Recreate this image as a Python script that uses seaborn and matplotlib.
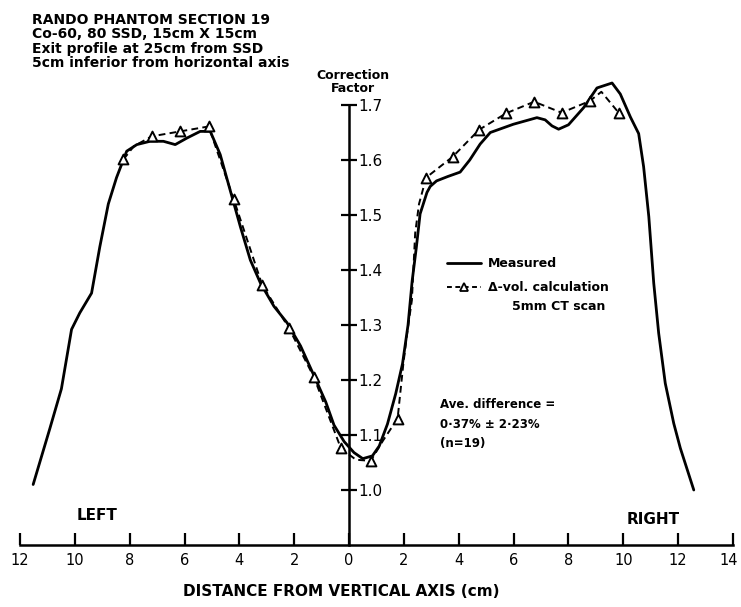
import matplotlib
matplotlib.use("Agg")
import matplotlib.pyplot as plt
from matplotlib.lines import Line2D
from matplotlib.transforms import ScaledTranslation
import seaborn as sns
import numpy as np

# ---------------- data ----------------
# Measured profile (negative x = LEFT side of vertical axis)
meas_x = [-11.52, -10.91, -10.49, -10.12, -9.82, -9.39, -9.09, -8.78, -8.48, -8.11,
          -7.74, -7.26, -6.77, -6.34, -5.91, -5.43, -5.06, -4.70, -4.33, -3.96,
          -3.60, -3.23, -2.74, -2.26, -1.77, -1.28, -0.85, -0.55, -0.18, 0.18,
          0.50, 0.85, 1.10, 1.40, 1.70, 1.95, 2.15, 2.30, 2.45, 2.59,
          2.84, 2.96, 3.19, 3.60, 4.05, 4.40, 4.78, 5.15, 5.99, 6.85,
          7.15, 7.40, 7.64, 8.00, 8.55, 9.04, 9.59, 9.89, 10.26, 10.56,
          10.74, 10.93, 11.11, 11.29, 11.53, 11.84, 12.08, 12.57]
meas_y = [1.010, 1.112, 1.184, 1.292, 1.322, 1.358, 1.442, 1.520, 1.568, 1.616,
          1.628, 1.634, 1.634, 1.628, 1.640, 1.652, 1.652, 1.610, 1.544, 1.478,
          1.418, 1.376, 1.334, 1.304, 1.262, 1.208, 1.160, 1.118, 1.088, 1.068,
          1.057, 1.062, 1.080, 1.120, 1.175, 1.230, 1.300, 1.380, 1.440, 1.502,
          1.541, 1.552, 1.562, 1.570, 1.578, 1.600, 1.629, 1.650, 1.665, 1.677,
          1.673, 1.662, 1.656, 1.664, 1.695, 1.731, 1.740, 1.720, 1.678, 1.648,
          1.588, 1.497, 1.376, 1.285, 1.194, 1.121, 1.076, 1.000]

# Delta-volume calculation (dashed path)
calc_x = [-8.23, -7.85, -7.20, -6.16, -5.12, -4.21, -3.17, -2.20, -1.28, -0.30,
          0.25, 0.79, 1.24, 1.77, 1.98, 2.13, 2.29, 2.41, 2.55, 2.81,
          3.78, 4.74, 5.73, 6.75, 7.75, 8.77, 9.20, 9.83]
calc_y = [1.601, 1.625, 1.643, 1.652, 1.661, 1.529, 1.373, 1.295, 1.205, 1.076,
          1.055, 1.053, 1.090, 1.130, 1.230, 1.290, 1.345, 1.467, 1.520, 1.568,
          1.606, 1.655, 1.685, 1.706, 1.686, 1.707, 1.724, 1.686]

# Calculated points (n = 19), triangles
tri_x = [-8.23, -7.20, -6.16, -5.12, -4.21, -3.17, -2.20, -1.28, -0.30, 0.79,
         1.77, 2.81, 3.78, 4.74, 5.73, 6.75, 7.75, 8.77, 9.83]
tri_y = [1.601, 1.643, 1.652, 1.661, 1.529, 1.373, 1.295, 1.205, 1.076, 1.053,
         1.130, 1.568, 1.606, 1.655, 1.685, 1.706, 1.686, 1.707, 1.686]

x_ticks = [-12, -10, -8, -6, -4, -2, 0, 2, 4, 6, 8, 10, 12, 14]
x_tick_labels = ["12", "10", "8", "6", "4", "2", "0", "2", "4", "6", "8", "10", "12", "14"]
y_ticks = [1.0, 1.1, 1.2, 1.3, 1.4, 1.5, 1.6, 1.7]
y_tick_labels = ["1.0", "1.1", "1.2", "1.3", "1.4", "1.5", "1.6", "1.7"]

title_lines = ["RANDO PHANTOM SECTION 19",
               "Co-60, 80 SSD, 15cm X 15cm",
               "Exit profile at 25cm from SSD",
               "5cm inferior from horizontal axis"]

# ---------------- figure ----------------
sns.set_theme(style="white")
plt.rcParams['font.family'] = ['DejaVu Sans']
plt.rcParams['font.weight'] = 'bold'
plt.rcParams['text.color'] = 'black'
plt.rcParams['axes.labelcolor'] = 'black'
plt.rcParams['xtick.color'] = 'black'
plt.rcParams['ytick.color'] = 'black'

W, H = 741, 607
fig = plt.figure(figsize=(W / 100, H / 100), dpi=100)
ax = fig.add_axes([20 / W, 1 - 545 / H, 713 / W, 484 / H])
ax.set_facecolor("white")

sns.lineplot(x=meas_x, y=meas_y, sort=False, estimator=None, color="black",
             lw=2.0, ax=ax, clip_on=False)
sns.lineplot(x=calc_x, y=calc_y, sort=False, estimator=None, color="black",
             lw=1.4, linestyle=(0, (3.5, 2.2)), ax=ax, clip_on=False)
sns.scatterplot(x=tri_x, y=tri_y, marker="^", s=50, facecolor="white",
                edgecolor="black", linewidth=1.4, ax=ax, zorder=5, clip_on=False)

ax.set_xlim(-12, 14)
ax.set_ylim(0.9, 1.78)

# spines
ax.spines["top"].set_visible(False)
ax.spines["left"].set_visible(False)
ax.spines["right"].set_position(("data", 0))
ax.spines["right"].set_bounds(0.9, 1.7)
ax.spines["right"].set_linewidth(1.8)
ax.spines["right"].set_color("black")
ax.spines["bottom"].set_linewidth(1.8)
ax.spines["bottom"].set_color("black")

ax.set_xticks(x_ticks)
ax.set_xticklabels(x_tick_labels, fontweight="normal")
ax.set_yticks(y_ticks)
ax.set_yticklabels(y_tick_labels, fontweight="normal")
ax.yaxis.set_ticks_position("right")
ax.tick_params(axis="x", direction="in", length=9, width=1.6, pad=6,
               labelsize=10.5, colors="black", bottom=True)
ax.tick_params(axis="y", direction="inout", length=11, width=1.6, pad=1,
               labelsize=11, colors="black", right=True, left=False)
ax.grid(False)

# keep the last tick label ("14") inside the figure edge
last = ax.get_xticklabels()[-1]
last.set_transform(last.get_transform() + ScaledTranslation(-4 / 100, 0, fig.dpi_scale_trans))

ax.set_xlabel("DISTANCE FROM VERTICAL AXIS (cm)", fontsize=11, fontweight="bold")
ax.xaxis.label.set_va("center")
ax.xaxis.set_label_coords((341 - 20) / 713, -(592 - 545) / 484)

# titles
for i, line in enumerate(title_lines):
    fig.text(32 / W, 1 - (20 + 14.3 * i) / H, line, fontsize=10, fontweight="bold",
             ha="left", va="center")

fig.text(353 / W, 1 - 82 / H, "Correction\nFactor", fontsize=9, fontweight="bold",
         ha="center", va="center", linespacing=0.95)

fig.text(97 / W, 1 - 515 / H, "LEFT", fontsize=11, fontweight="bold",
         ha="center", va="center")
fig.text(653 / W, 1 - 520 / H, "RIGHT", fontsize=11, fontweight="bold",
         ha="center", va="center")

fig.text(440 / W, 1 - 405 / H, "Ave. difference =", fontsize=8.5, fontweight="bold",
         ha="left", va="center")
fig.text(440 / W, 1 - 425 / H, "0·37% ± 2·23%", fontsize=8.5, fontweight="bold",
         ha="left", va="center")
fig.text(440 / W, 1 - 443 / H, "(n=19)", fontsize=8.5, fontweight="bold",
         ha="left", va="center")

# legend
handles = [Line2D([], [], color="black", lw=2.0),
           Line2D([], [], color="black", lw=1.4, linestyle=(0, (2.5, 1.8)),
                  marker="^", markersize=6, markerfacecolor="white",
                  markeredgecolor="black", markeredgewidth=1.3)]
leg = ax.legend(handles, ["Measured", "Δ-vol. calculation"], loc="upper left",
                bbox_to_anchor=(447 / W, 1 - 257 / H), bbox_transform=fig.transFigure,
                frameon=False, fontsize=9, handlelength=2.7, handletextpad=0.6,
                borderpad=0, borderaxespad=0, labelspacing=0.9)
for t in leg.get_texts():
    t.set_color("black")
    t.set_fontweight("bold")
fig.text(512 / W, 1 - 306 / H, "5mm CT scan", fontsize=9, fontweight="bold",
         ha="left", va="center")

fig.savefig("out.png", dpi=100, facecolor="white")
